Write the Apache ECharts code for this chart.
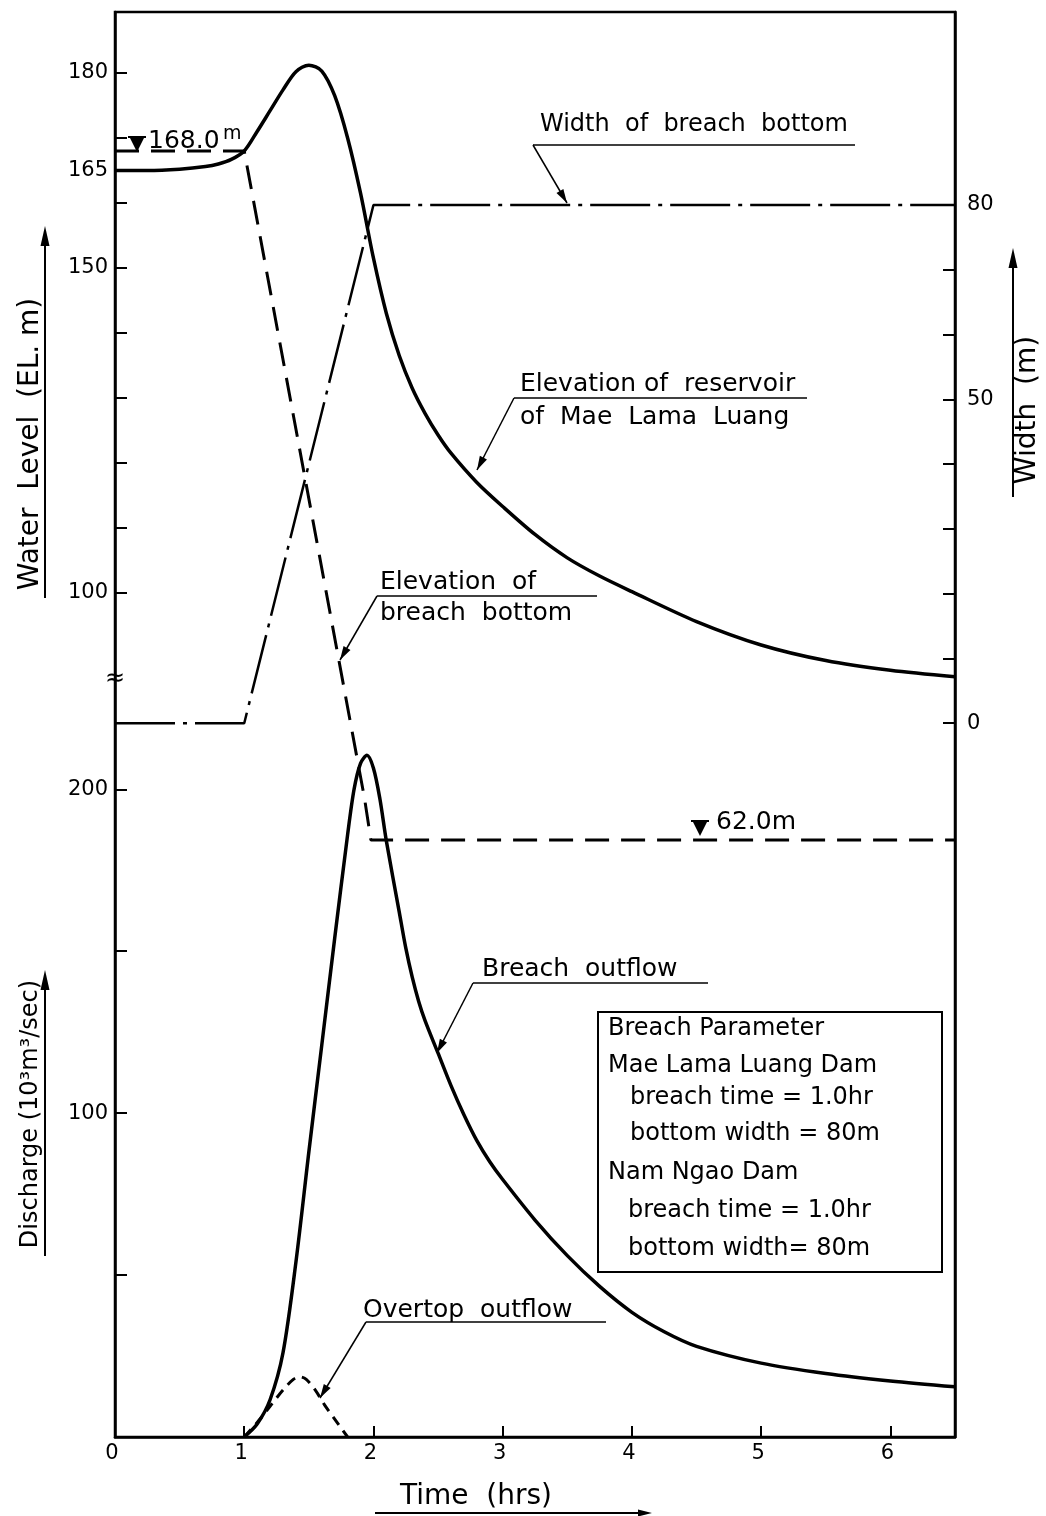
<!DOCTYPE html>
<html>
<head>
<meta charset="utf-8">
<script src="https://cdn.jsdelivr.net/npm/echarts@6/dist/echarts.min.js"></script>
<style>
html, body { margin: 0; padding: 0; background: #fff; }
#main { width: 1046px; height: 1516px; }
</style>
</head>
<body>
<div id="main"></div>
<script>
// ---- data ----
// elevation of reservoir of Mae Lama Luang (EL. m)
var reservoirTime = [0, 0.25, 0.5, 0.7, 0.8, 0.9, 1.0, 1.1, 1.2, 1.3, 1.4, 1.5, 1.6, 1.7, 1.8, 1.9, 2.0, 2.1, 2.2, 2.3, 2.4, 2.5, 2.6, 2.8, 3.0, 3.25, 3.5, 3.75, 4.0, 4.5, 5.0, 5.5, 6.0, 6.5];
var reservoirLevel = [165, 165, 165.2, 165.6, 166, 166.7, 168, 171, 174.2, 177.4, 180.2, 181.2, 180.3, 176.5, 170, 161.5, 151.5, 143, 136.5, 131.5, 127.6, 124.3, 121.5, 117, 113.3, 109, 105.4, 102.6, 100.2, 95.6, 92, 89.6, 88.1, 87.1];
// elevation of breach bottom (EL. m)
var bottomTime = [0, 1.0, 1.93, 1.98, 6.5];
var bottomLevel = [168, 168, 68.5, 62, 62];
// width of breach bottom (m)
var widthTime = [0, 1.0, 2.0, 6.5];
var widthValue = [0, 0, 80, 80];
// breach outflow (10^3 m3/sec)
var outflowTime = [1.0, 1.1, 1.2, 1.3, 1.4, 1.5, 1.6, 1.7, 1.8, 1.85, 1.9, 1.95, 2.0, 2.05, 2.1, 2.2, 2.25, 2.3, 2.35, 2.4, 2.5, 2.6, 2.7, 2.8, 2.9, 3.0, 3.25, 3.5, 3.75, 4.0, 4.25, 4.5, 5.0, 5.5, 6.0, 6.5];
var outflowValue = [0, 4, 11.5, 26, 54, 88, 121, 154, 186, 200, 208, 210.5, 206.5, 197, 184, 162, 151, 142, 134.5, 128.5, 118.5, 108.5, 99.5, 91.5, 85, 79.5, 67, 56, 46.5, 38.5, 32.5, 28, 22.8, 19.6, 17.3, 15.5];
// overtop outflow (10^3 m3/sec)
var overtopTime = [1.0, 1.1, 1.2, 1.3, 1.38, 1.43, 1.48, 1.55, 1.62, 1.7, 1.8];
var overtopValue = [0, 4.5, 9.5, 14.5, 17.8, 18.6, 17.8, 14.5, 10, 5.5, 0];

// ticks and labels
var timeTicks = [1, 2, 3, 4, 5, 6];
var timeLabels = [0, 1, 2, 3, 4, 5, 6];
var levelTicks = [100, 110, 120, 130, 140, 150, 160, 170, 180];
var levelLabels = [100, 150, 165, 180];
var dischargeTicks = [50, 100, 150, 200];
var dischargeLabels = [100, 200];
var widthTicks = [0, 10, 20, 30, 40, 50, 60, 70, 80];
var widthLabels = [0, 50, 80];

var FONT = 'DejaVu Sans';
var INK = '#000';

function pairs(t, v) {
    var out = [];
    for (var i = 0; i < t.length; i++) {
        out.push([t[i], v[i]]);
    }
    return out;
}

function yAxisCfg(pos, min, max, ticks, labels, showLine) {
    return {
        type: 'value',
        position: pos,
        min: min,
        max: max,
        axisLine: { show: showLine, onZero: false, lineStyle: { color: INK, width: 2.5 } },
        axisTick: { show: true, inside: true, length: 12, customValues: ticks, lineStyle: { color: INK, width: 2 } },
        axisLabel: { customValues: labels, color: INK, fontFamily: FONT, fontSize: 21, margin: pos == 'left' ? 7 : 12 },
        splitLine: { show: false }
    };
}

var chart = echarts.init(document.getElementById('main'));

var option = {
    backgroundColor: '#fff',
    animation: false,
    grid: { left: 115, right: 91, top: 12, bottom: 79, show: true, borderColor: INK, borderWidth: 2.5, backgroundColor: 'transparent' },
    xAxis: {
        type: 'value',
        min: 0,
        max: 6.5,
        axisLine: { onZero: false, lineStyle: { color: INK, width: 2.5 } },
        axisTick: { inside: true, length: 11, customValues: timeTicks, lineStyle: { color: INK, width: 2 } },
        // tick labels are placed below as graphic text (see timeLabels)
        axisLabel: { show: false },
        splitLine: { show: false }
    },
    yAxis: [
        yAxisCfg('left', -29.85, 189.38, levelTicks, levelLabels, true),
        yAxisCfg('left', 0, 440, dischargeTicks, dischargeLabels, false),
        yAxisCfg('right', -110.2, 109.8, widthTicks, widthLabels, true)
    ],
    series: [
        {
            name: 'Elevation of reservoir', type: 'line', yAxisIndex: 0,
            data: pairs(reservoirTime, reservoirLevel),
            smooth: 0.3, showSymbol: false,
            lineStyle: { color: INK, width: 3.5 }
        },
        {
            name: 'Elevation of breach bottom', type: 'line', yAxisIndex: 0,
            data: pairs(bottomTime, bottomLevel),
            showSymbol: false,
            lineStyle: { color: INK, width: 3, type: [24, 12] }
        },
        {
            name: 'Width of breach bottom', type: 'line', yAxisIndex: 2,
            data: pairs(widthTime, widthValue),
            showSymbol: false,
            lineStyle: { color: INK, width: 2.5, type: [60, 8, 4, 8] }
        },
        {
            name: 'Breach outflow', type: 'line', yAxisIndex: 1,
            data: pairs(outflowTime, outflowValue),
            smooth: 0.3, showSymbol: false,
            lineStyle: { color: INK, width: 3.5 }
        },
        {
            name: 'Overtop outflow', type: 'line', yAxisIndex: 1,
            data: pairs(overtopTime, overtopValue),
            smooth: 0.3, showSymbol: false,
            lineStyle: { color: INK, width: 3, type: [10, 7] }
        }
    ]
};
chart.setOption(option);

// ---- annotations, titles, arrows ----
function txt(x, y, s, size, align, rot) {
    return {
        type: 'text', x: x, y: y, rotation: rot || 0, silent: true, z: 10,
        style: {
            text: s, font: size + 'px "' + FONT + '"', fill: INK,
            align: align || 'left', verticalAlign: 'middle',
            textAlign: align || 'left', textVerticalAlign: 'middle'
        }
    };
}
function seg(x1, y1, x2, y2, w) {
    return { type: 'line', silent: true, z: 10, shape: { x1: x1, y1: y1, x2: x2, y2: y2 }, style: { stroke: INK, lineWidth: w || 1.5 } };
}
// filled arrow head with tip at (x2, y2)
function head(x1, y1, x2, y2, len, half) {
    var a = Math.atan2(y2 - y1, x2 - x1);
    var bx = x2 - len * Math.cos(a), by = y2 - len * Math.sin(a);
    var nx = -Math.sin(a) * half, ny = Math.cos(a) * half;
    return { type: 'polygon', silent: true, z: 10, shape: { points: [[x2, y2], [bx + nx, by + ny], [bx - nx, by - ny]] }, style: { fill: INK } };
}
function leader(x1, y1, x2, y2) {
    return [seg(x1, y1, x2, y2, 1.5), head(x1, y1, x2, y2, 14, 4)];
}
function marker(x, y) {
    // water surface symbol
    return [
        { type: 'polygon', silent: true, z: 10, shape: { points: [[x - 7, y - 7], [x + 7, y - 7], [x, y + 7]] }, style: { fill: INK } },
        seg(x - 9, y - 8, x + 9, y - 8, 2)
    ];
}

var g = [];
// time tick labels, positioned through the x axis scale
for (var i = 0; i < timeLabels.length; i++) {
    var px = chart.convertToPixel({ xAxisIndex: 0 }, timeLabels[i]);
    g.push(txt(px - 3, 1454, String(timeLabels[i]), 21, 'center'));
}

// axis titles
g.push(txt(31, 444, 'Water  Level  (EL. m)', 28, 'center', Math.PI / 2));
g.push(seg(45, 598, 45, 240, 2), head(45, 598, 45, 226, 20, 4.5));
g.push(txt(31, 1114, 'Discharge (10\u00b3m\u00b3/sec)', 24, 'center', Math.PI / 2));
g.push(seg(45, 1256, 45, 985, 2), head(45, 1256, 45, 970, 20, 4.5));
g.push(txt(1028, 410, 'Width  (m)', 28, 'center', Math.PI / 2));
g.push(seg(1013, 497, 1013, 262, 2), head(1013, 497, 1013, 248, 20, 4.5));
g.push(txt(476, 1497, 'Time  (hrs)', 28, 'center'));
g.push(seg(375, 1513, 640, 1513, 2), head(375, 1513, 652, 1513, 14, 3.5));

// axis break
g.push(txt(115, 679, '\u2248', 24, 'center'));

// curve annotations
g.push(txt(540, 125, 'Width  of  breach  bottom', 24));
g.push(seg(533, 145, 855, 145, 1.5));
g = g.concat(leader(533, 145, 567, 203));

g.push(txt(520, 384, 'Elevation of  reservoir', 25));
g.push(txt(520, 417, 'of  Mae  Lama  Luang', 25));
g.push(seg(514, 398, 807, 398, 1.5));
g = g.concat(leader(514, 398, 477, 470));

g.push(txt(380, 582, 'Elevation  of', 25));
g.push(txt(380, 613, 'breach  bottom', 25));
g.push(seg(377, 596, 597, 596, 1.5));
g = g.concat(leader(377, 596, 340, 660));

g.push(txt(482, 969, 'Breach  outflow', 25));
g.push(seg(473, 983, 708, 983, 1.5));
g = g.concat(leader(473, 983, 437, 1053));

g.push(txt(363, 1310, 'Overtop  outflow', 25));
g.push(seg(366, 1322, 606, 1322, 1.5));
g = g.concat(leader(366, 1322, 320, 1398));

// water level marks
g = g.concat(marker(137, 145));
g.push(txt(148, 141, '168.0', 25));
g.push(txt(223, 134, 'm', 19));
g = g.concat(marker(700, 829));
g.push(txt(716, 822, '62.0m', 25));

// breach parameter box
g.push({ type: 'rect', silent: true, z: 10, shape: { x: 598, y: 1012, width: 344, height: 260 }, style: { fill: '#fff', stroke: INK, lineWidth: 2 } });
g.push(txt(608, 1029, 'Breach Parameter', 24));
g.push(txt(608, 1066, 'Mae Lama Luang Dam', 24));
g.push(txt(630, 1098, 'breach time = 1.0hr', 24));
g.push(txt(630, 1134, 'bottom width = 80m', 24));
g.push(txt(608, 1173, 'Nam Ngao Dam', 24));
g.push(txt(628, 1211, 'breach time = 1.0hr', 24));
g.push(txt(628, 1249, 'bottom width= 80m', 24));

chart.setOption({ graphic: { elements: g } });
</script>
</body>
</html>
